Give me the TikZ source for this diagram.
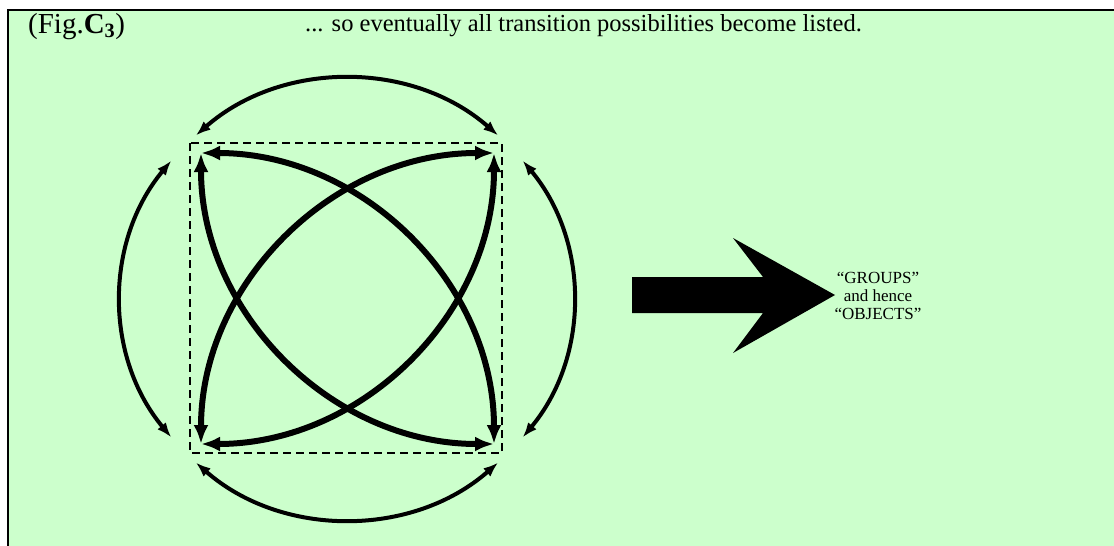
\documentclass[tikz,border=0pt]{standalone}
\usepackage{fontspec}
\setmainfont{Liberation Serif}
\usetikzlibrary{arrows.meta}
\definecolor{bg}{HTML}{CCFFCC}
\begin{document}
\begin{tikzpicture}[x=1pt,y=1pt,
  outer/.style={line width=4pt, {Latex[length=15pt,width=11pt]}-{Latex[length=15pt,width=11pt]}},
  inner/.style={line width=6pt, {Latex[length=19pt,width=15pt]}-{Latex[length=19pt,width=15pt]}},
  sqframe/.style={line width=2pt, dash pattern=on 8pt off 5pt},
  lbl/.style={align=center, font=\fontsize{17}{18}\selectfont}]
\useasboundingbox (0,0) rectangle (1114,-546);
\clip (0,0) rectangle (1114,-546);
\draw[line width=2pt, fill=bg] (8,-10) rectangle (1130,-560);
% title
\node[anchor=base west, inner sep=0pt, font=\fontsize{29}{34}\selectfont] (title) at (28,-33) {(Fig.\textbf{C\textsubscript{3}})};
\node[anchor=base west, inner sep=0pt, font=\fontsize{24.5}{28}\selectfont] (sub) at (305,-31) {... so eventually all transition possibilities become listed.};
% dashed square
\draw[sqframe] (190,-143) rectangle (502,-453);
% corners
\coordinate (TL) at (201,-153);
\coordinate (TR) at (494,-153);
\coordinate (BL) at (201,-444);
\coordinate (BR) at (494,-444);
\coordinate (O) at (347,-299);
% inner arcs
\draw[inner] (TL) .. controls +(162,0) and +(0,160) .. (BR);
\draw[inner] (TL) .. controls +(0,-160) and +(-162,0) .. (BR);
\draw[inner] (TR) .. controls +(-162,0) and +(0,160) .. (BL);
\draw[inner] (TR) .. controls +(0,-160) and +(162,0) .. (BL);
% outer arcs
\draw[outer] ([shift={(132:226 and 220)}]O) arc[start angle=132, end angle=48, x radius=226, y radius=220];
\draw[outer] ([shift={(141:226 and 220)}]O) arc[start angle=141, end angle=219, x radius=226, y radius=220];
\draw[outer] ([shift={(228:226 and 220)}]O) arc[start angle=228, end angle=312, x radius=226, y radius=220];
\draw[outer] ([shift={(321:226 and 220)}]O) arc[start angle=321, end angle=399, x radius=226, y radius=220];
% big arrow
\fill (632,-277) -- (763,-277) -- (733,-238) -- (835,-295) -- (733,-353) -- (763,-313) -- (632,-313) -- cycle;
\node[lbl] (groups) at (878,-296) {“GROUPS”\\and hence\\“OBJECTS”};
\end{tikzpicture}
\end{document}
